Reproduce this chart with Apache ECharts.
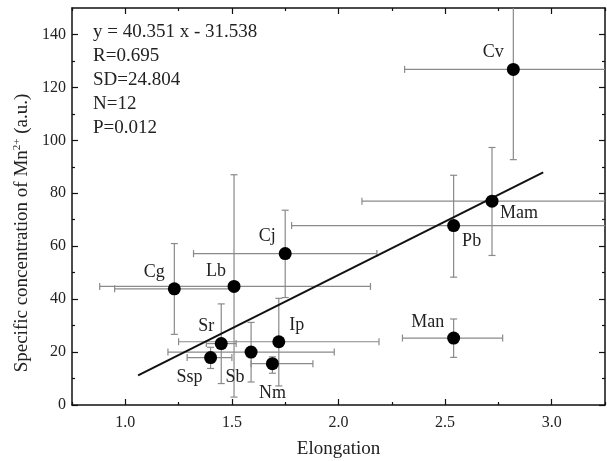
<!DOCTYPE html>
<html>
<head>
<meta charset="utf-8">
<script src="https://cdn.jsdelivr.net/npm/echarts@6/dist/echarts.min.js"></script>
<style>
  html, body { margin: 0; padding: 0; background: #fff; }
  #main { width: 607px; height: 461px; }
</style>
</head>
<body>
<div id="main"></div>
<script>
// species and values
var names = ['Cv', 'Mam', 'Pb', 'Man', 'Cj', 'Cg', 'Lb', 'Sr', 'Ssp', 'Sb', 'Ip', 'Nm'];
var elong = [2.82, 2.72, 2.54, 2.54, 1.75, 1.23, 1.51, 1.45, 1.40, 1.59, 1.72, 1.69];
var conc = [126.8, 77.0, 67.8, 25.3, 57.2, 43.9, 44.8, 23.2, 17.9, 20.0, 23.9, 15.6];
var elongLow = [2.31, 2.11, 1.78, 2.30, 1.32, 0.95, 0.88, 1.38, 1.29, 1.20, 1.25, 1.59];
var elongHigh = [3.33, 3.33, 3.30, 2.77, 2.18, 1.51, 2.15, 1.52, 1.50, 1.98, 2.19, 1.88];
var concLow = [92.7, 56.5, 48.3, 18.0, 40.6, 26.7, 3.0, 8.1, 13.8, 8.7, 7.2, 12.0];
var concHigh = [161.0, 97.3, 86.8, 32.5, 73.6, 61.0, 87.0, 38.2, 21.8, 31.2, 40.3, 18.2];

// fitted line y = 40.351 x - 31.538, end points
var fitX = [1.06, 2.96];
var fitY = [11.2, 87.9];

var xTicks = [1.0, 1.5, 2.0, 2.5, 3.0];
var xMinor = [0.75, 1.25, 1.75, 2.25, 2.75, 3.25];
var yTicks = [0, 20, 40, 60, 80, 100, 120, 140];
var yMinor = [10, 30, 50, 70, 90, 110, 130];

var statLines = ['y = 40.351 x - 31.538', 'R=0.695', 'SD=24.804', 'N=12', 'P=0.012'];

// label offsets (style only)
var labelOffsets = [[-20, -17], [27, 12], [18, 16], [-26, -16], [-18, -17], [-20, -17],
                    [-18, -15], [-15, -17], [-21, 20], [-16, 25], [18, -16], [0, 30]];

var FONT = 'Liberation Serif';
var X_MIN = 0.75, X_MAX = 3.25, Y_MIN = 0, Y_MAX = 150;

function clamp(v, a, b) { return Math.max(a, Math.min(b, v)); }

var errData = [];
var ptData = [];
for (var i = 0; i < names.length; i++) {
    errData.push([elong[i], conc[i], elongLow[i], elongHigh[i], concLow[i], concHigh[i]]);
    ptData.push({
        value: [elong[i], conc[i]],
        name: names[i],
        label: { offset: labelOffsets[i] }
    });
}
var fitData = fitX.map(function (x, k) { return [x, fitY[k]]; });

function axisX(pos, ticks, len, showLine, showLabel, name) {
    return {
        type: 'value', position: pos, min: X_MIN, max: X_MAX,
        name: name || '', nameLocation: 'middle', nameGap: 35,
        nameTextStyle: { fontFamily: FONT, fontSize: 19, color: '#222' },
        axisLine: { show: showLine, onZero: false, lineStyle: { color: '#111', width: 1.5 } },
        axisTick: { show: true, inside: true, length: len, customValues: ticks, lineStyle: { color: '#111', width: 1.2 } },
        axisLabel: { show: showLabel, customValues: ticks, margin: 10,
            fontFamily: FONT, fontSize: 16, color: '#222',
            formatter: function (v) { return v.toFixed(1); } },
        splitLine: { show: false }
    };
}
function axisY(pos, ticks, len, showLine, showLabel) {
    return {
        type: 'value', position: pos, min: Y_MIN, max: Y_MAX,
        axisLine: { show: showLine, onZero: false, lineStyle: { color: '#111', width: 1.5 } },
        axisTick: { show: true, inside: true, length: len, customValues: ticks, lineStyle: { color: '#111', width: 1.2 } },
        axisLabel: { show: showLabel, customValues: ticks, margin: 6,
            fontFamily: FONT, fontSize: 16, color: '#222' },
        splitLine: { show: false }
    };
}

var statGraphics = statLines.map(function (t, k) {
    return {
        type: 'text', left: 93, top: 23 + k * 24,
        style: { text: t, font: '19px "Liberation Serif"', fill: '#222' }
    };
});

var option = {
    backgroundColor: '#fff',
    animation: false,
    grid: { left: 72, right: 2, top: 8, bottom: 56, containLabel: false, outerBoundsMode: 'none' },
    xAxis: [
        axisX('bottom', xTicks, 6, true, true, 'Elongation'),
        axisX('bottom', xMinor, 3, false, false),
        axisX('top', xTicks, 6, true, false),
        axisX('top', xMinor, 3, false, false)
    ],
    yAxis: [
        axisY('left', yTicks, 6, true, true),
        axisY('left', yMinor, 3, false, false),
        axisY('right', yTicks, 6, true, false),
        axisY('right', yMinor, 3, false, false)
    ],
    graphic: statGraphics.concat([{
        type: 'text', x: 22, y: 233, rotation: Math.PI / 2,
        style: {
            text: '{a|Specific concentration of Mn}{s|2+}{a| (a.u.)}',
            align: 'center', verticalAlign: 'middle',
            rich: {
                a: { fontFamily: FONT, fontSize: 19, fill: '#222' },
                s: { fontFamily: FONT, fontSize: 11, fill: '#222', padding: [0, 0, 10, 0] }
            }
        }
    }]),
    series: [
        {
            type: 'custom',
            z: 1,
            silent: true,
            data: errData,
            renderItem: function (params, api) {
                var x = api.value(0), y = api.value(1);
                var xl = clamp(api.value(2), X_MIN, X_MAX), xh = clamp(api.value(3), X_MIN, X_MAX);
                var yl = clamp(api.value(4), Y_MIN, Y_MAX), yh = clamp(api.value(5), Y_MIN, Y_MAX);
                var pL = api.coord([xl, y]), pR = api.coord([xh, y]);
                var pB = api.coord([x, yl]), pT = api.coord([x, yh]);
                var cap = 3.5;
                var st = { stroke: '#8a8a8a', lineWidth: 1.2 };
                var kids = [
                    { type: 'line', shape: { x1: pL[0], y1: pL[1], x2: pR[0], y2: pR[1] }, style: st },
                    { type: 'line', shape: { x1: pB[0], y1: pB[1], x2: pT[0], y2: pT[1] }, style: st }
                ];
                if (api.value(2) >= X_MIN) kids.push({ type: 'line', shape: { x1: pL[0], y1: pL[1] - cap, x2: pL[0], y2: pL[1] + cap }, style: st });
                if (api.value(3) <= X_MAX) kids.push({ type: 'line', shape: { x1: pR[0], y1: pR[1] - cap, x2: pR[0], y2: pR[1] + cap }, style: st });
                if (api.value(4) >= Y_MIN) kids.push({ type: 'line', shape: { x1: pB[0] - cap, y1: pB[1], x2: pB[0] + cap, y2: pB[1] }, style: st });
                if (api.value(5) <= Y_MAX) kids.push({ type: 'line', shape: { x1: pT[0] - cap, y1: pT[1], x2: pT[0] + cap, y2: pT[1] }, style: st });
                return { type: 'group', children: kids };
            }
        },
        {
            type: 'line',
            z: 2,
            data: fitData,
            symbol: 'none',
            lineStyle: { color: '#111', width: 2 }
        },
        {
            type: 'scatter',
            z: 3,
            data: ptData,
            symbol: 'circle',
            symbolSize: 13,
            itemStyle: { color: '#000', opacity: 1 },
            label: {
                show: true, position: 'inside',
                formatter: '{b}',
                fontFamily: FONT, fontSize: 18, color: '#222'
            }
        }
    ]
};

var myChart = echarts.init(document.getElementById('main'));
myChart.setOption(option);
window.onresize = myChart.resize;
</script>
</body>
</html>
